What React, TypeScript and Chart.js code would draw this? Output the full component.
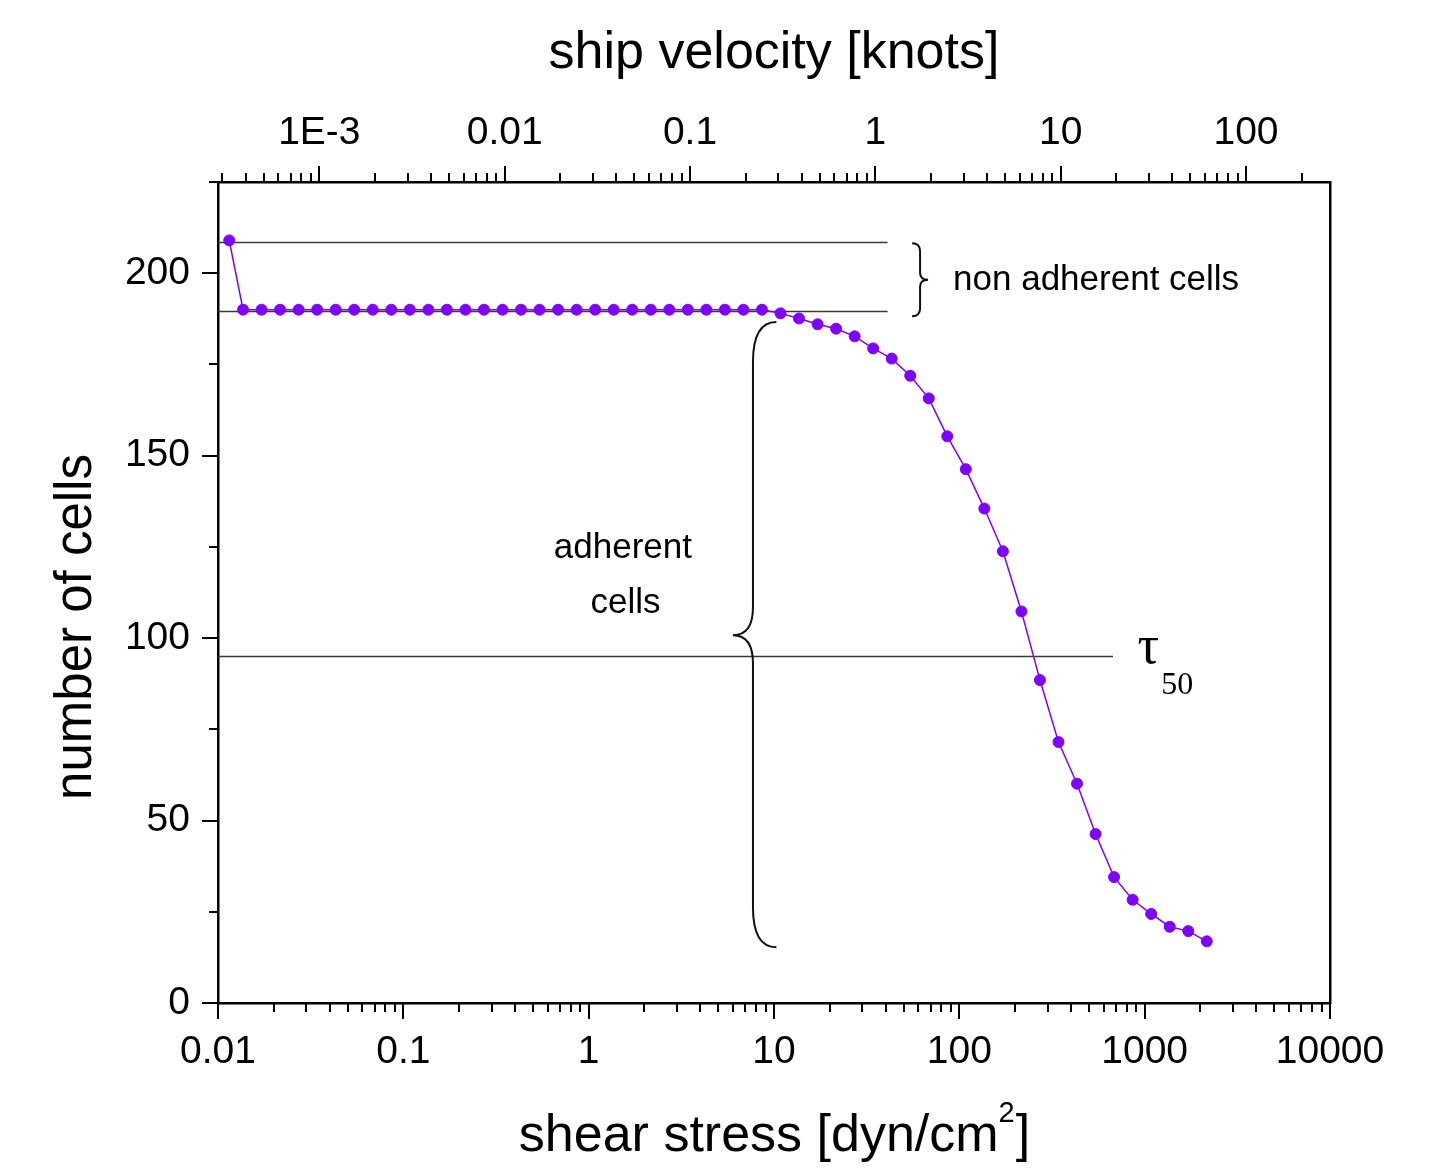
import React, { useEffect, useRef } from "react";
import { Chart, registerables } from "chart.js";

Chart.register(...registerables);

// ---------- data ----------
const shearStress: number[] = [
  0.0115, 0.01365, 0.01718, 0.02163, 0.02723, 0.03428, 0.04315, 0.05433, 0.06839, 0.0861,
  0.1084, 0.1365, 0.1718, 0.2163, 0.2723, 0.3428, 0.4315, 0.5433, 0.6839, 0.861,
  1.084, 1.365, 1.718, 2.163, 2.723, 3.428, 4.315, 5.433, 6.839, 8.61,
  10.84, 13.65, 17.18, 21.63, 27.23, 34.28, 43.15, 54.33, 68.39, 86.1,
  108.4, 136.5, 171.8, 216.3, 272.3, 342.8, 431.5, 543.3, 683.9, 861,
  1084, 1365, 1718, 2163,
];
const cellCount: number[] = [
  209, 190, 190, 190, 190, 190, 190, 190, 190, 190,
  190, 190, 190, 190, 190, 190, 190, 190, 190, 190,
  190, 190, 190, 190, 190, 190, 190, 190, 190, 190,
  189, 187.6, 186, 184.8, 182.7, 179.4, 176.6, 171.9, 165.7, 155.3,
  146.3, 135.5, 123.8, 107.3, 88.5, 71.5, 60.1, 46.3, 34.5, 28.3,
  24.4, 20.9, 19.7, 16.9,
];

const bottomTickValues: number[] = [0.01, 0.1, 1, 10, 100, 1000, 10000];
const bottomTickLabels: string[] = ["0.01", "0.1", "1", "10", "100", "1000", "10000"];
const topTickValues: number[] = [0.001, 0.01, 0.1, 1, 10, 100];
const topTickLabels: string[] = ["1E-3", "0.01", "0.1", "1", "10", "100"];
const yTickValues: number[] = [0, 50, 100, 150, 200];
const yTickLabels: string[] = ["0", "50", "100", "150", "200"];

const nonAdherentLevel = 208.5;
const adherentLevel = 189.7;
const tau50Level = 95;

const bottomTitle = "shear stress [dyn/cm";
const bottomTitleSup = "2";
const topTitle = "ship velocity [knots]";
const leftTitle = "number of cells";

// ---------- annotation layout (data coordinates) ----------
const refLines = [
  { level: nonAdherentLevel, from: 0.01, to: 41 },
  { level: adherentLevel, from: 0.01, to: 41 },
  { level: tau50Level, from: 0.01, to: 675 },
];
const smallBrace = { ex: 55.6, sx: 61.4, tx: 67.8, y1: 208.2, ym: 198.2, y2: 188.2, r1: 8, r2: 7 };
const bigBrace = { ex: 10.3, sx: 7.7, tx: 6.0, y1: 186.6, ym: 100.8, y2: 15.3, r1: 40, r2: 28 };
const textNotes = [
  { text: "non adherent cells", x: 92.5, y: 195.3, align: "left" as CanvasTextAlign },
  { text: "adherent", x: 1.53, y: 121.9, align: "center" as CanvasTextAlign },
  { text: "cells", x: 1.58, y: 106.8, align: "center" as CanvasTextAlign },
];
const tauNote = { x: 915, y: 93.2 };

const SANS = "'Liberation Sans', Arial, sans-serif";
const SERIF = "'Liberation Serif', 'Times New Roman', serif";
const PURPLE = "#8000ff";

function isPow10(v: number) {
  const l = Math.log10(v);
  return Math.abs(l - Math.round(l)) < 1e-6;
}

function drawLogTicks(ctx: CanvasRenderingContext2D, scale: any, y0: number, dir: number) {
  const min = scale.min, max = scale.max;
  const e0 = Math.floor(Math.log10(min));
  const e1 = Math.ceil(Math.log10(max));
  for (let e = e0; e <= e1; e++) {
    for (let m = 1; m <= 9; m++) {
      const v = m * Math.pow(10, e);
      if (v < min * 0.999 || v > max * 1.001) continue;
      const px = Math.round(scale.getPixelForValue(v));
      const len = m === 1 ? 16 : 9;
      ctx.moveTo(px, y0);
      ctx.lineTo(px, y0 + dir * len);
    }
  }
}

function brace(ctx: CanvasRenderingContext2D, ex: number, sx: number, tx: number, y1: number, ym: number, y2: number, r1: number, r2: number) {
  ctx.beginPath();
  ctx.moveTo(ex, y1);
  ctx.quadraticCurveTo(sx, y1, sx, y1 + r1);
  ctx.lineTo(sx, ym - r2);
  ctx.quadraticCurveTo(sx, ym, tx, ym);
  ctx.quadraticCurveTo(sx, ym, sx, ym + r2);
  ctx.lineTo(sx, y2 - r1);
  ctx.quadraticCurveTo(sx, y2, ex, y2);
  ctx.stroke();
}

const overlayPlugin = {
  id: "overlay",
  beforeDatasetsDraw(chart: any) {
    const { ctx, scales } = chart;
    const xs = scales.x, ys = scales.y;
    ctx.save();
    ctx.strokeStyle = "#3a3a3a";
    ctx.lineWidth = 1.6;
    for (const ln of refLines) {
      const py = Math.round(ys.getPixelForValue(ln.level)) + 0.5;
      ctx.beginPath();
      ctx.moveTo(xs.getPixelForValue(ln.from), py);
      ctx.lineTo(xs.getPixelForValue(ln.to), py);
      ctx.stroke();
    }
    ctx.restore();
  },
  afterDraw(chart: any) {
    const { ctx, scales, chartArea } = chart;
    const xs = scales.x, x2 = scales.x2, ys = scales.y;
    ctx.save();
    // tick marks
    ctx.strokeStyle = "#000";
    ctx.lineWidth = 2;
    ctx.beginPath();
    drawLogTicks(ctx, xs, chartArea.bottom, 1);
    drawLogTicks(ctx, x2, chartArea.top, -1);
    for (let v = 0; v <= ys.max + 0.01; v += 25) {
      const py = Math.round(ys.getPixelForValue(v));
      const len = v % 50 === 0 ? 16 : 9;
      ctx.moveTo(chartArea.left, py);
      ctx.lineTo(chartArea.left - len, py);
    }
    ctx.stroke();

    // braces
    ctx.strokeStyle = "#111";
    ctx.lineWidth = 2;
    for (const b of [smallBrace, bigBrace]) {
      brace(
        ctx,
        xs.getPixelForValue(b.ex), xs.getPixelForValue(b.sx), xs.getPixelForValue(b.tx),
        ys.getPixelForValue(b.y1), ys.getPixelForValue(b.ym), ys.getPixelForValue(b.y2),
        b.r1, b.r2
      );
    }

    // text notes
    ctx.fillStyle = "#000";
    ctx.textBaseline = "alphabetic";
    ctx.font = `35px ${SANS}`;
    for (const t of textNotes) {
      ctx.textAlign = t.align;
      ctx.fillText(t.text, xs.getPixelForValue(t.x), ys.getPixelForValue(t.y));
    }
    // tau_50
    const tx = xs.getPixelForValue(tauNote.x);
    const ty = ys.getPixelForValue(tauNote.y);
    ctx.textAlign = "left";
    ctx.font = `54px ${SERIF}`;
    ctx.fillText("τ", tx, ty);
    const tw = ctx.measureText("τ").width;
    ctx.font = `32px ${SERIF}`;
    ctx.fillText("50", tx + tw + 2, ty + 31);

    // axis titles
    const cx = (chartArea.left + chartArea.right) / 2;
    ctx.font = `52px ${SANS}`;
    ctx.textAlign = "center";
    ctx.fillText(topTitle, cx, chartArea.top - 114);

    ctx.textAlign = "left";
    ctx.font = `52px ${SANS}`;
    const wMain = ctx.measureText(bottomTitle).width;
    const wClose = ctx.measureText("]").width;
    ctx.font = `29px ${SANS}`;
    const wSup = ctx.measureText(bottomTitleSup).width;
    const startX = cx - (wMain + wSup + wClose) / 2;
    const by = chartArea.bottom + 148;
    ctx.font = `52px ${SANS}`;
    ctx.fillText(bottomTitle, startX, by);
    ctx.font = `29px ${SANS}`;
    ctx.fillText(bottomTitleSup, startX + wMain, by - 29);
    ctx.font = `52px ${SANS}`;
    ctx.fillText("]", startX + wMain + wSup + 1, by);

    ctx.save();
    ctx.translate(chartArea.left - 127, 627);
    ctx.rotate(-Math.PI / 2);
    ctx.textAlign = "center";
    ctx.font = `51px ${SANS}`;
    ctx.fillText(leftTitle, 0, 0);
    ctx.restore();

    ctx.restore();
  },
};

export default function App() {
  const ref = useRef<HTMLCanvasElement>(null);
  useEffect(() => {
    const canvas = ref.current;
    if (!canvas) return;
    const points = shearStress.map((x, i) => ({ x, y: cellCount[i] }));
    const tickFont = { family: SANS, size: 39 };
    const chart = new Chart(canvas, {
      type: "scatter",
      data: {
        datasets: [
          {
            data: points,
            showLine: true,
            borderColor: PURPLE,
            borderWidth: 1.5,
            backgroundColor: PURPLE,
            pointBackgroundColor: PURPLE,
            pointBorderColor: PURPLE,
            pointBorderWidth: 1,
            pointRadius: 5.5,
            tension: 0,
            xAxisID: "x",
            yAxisID: "y",
          },
        ],
      },
      options: {
        responsive: false,
        animation: false,
        layout: { padding: 0 },
        plugins: { legend: { display: false }, tooltip: { enabled: false } },
        scales: {
          x: {
            type: "logarithmic",
            position: "bottom",
            min: 0.01,
            max: 10000,
            grid: { display: false, drawTicks: false },
            border: { display: true, color: "#000", width: 2.5 },
            ticks: {
              autoSkip: false,
              maxRotation: 0,
              padding: 26,
              color: "#000",
              font: tickFont,
              callback: (_v: any, i: number) => bottomTickLabels[i],
            },
            afterBuildTicks: (axis: any) => {
              axis.ticks = bottomTickValues.map((v) => ({ value: v, major: isPow10(v) }));
            },
            afterFit: (axis: any) => {
              axis.height = 167;
            },
          },
          x2: {
            type: "logarithmic",
            position: "top",
            min: 2.84e-4,
            max: 284,
            grid: { display: false, drawTicks: false },
            border: { display: true, color: "#000", width: 2.5 },
            ticks: {
              autoSkip: false,
              maxRotation: 0,
              padding: 25,
              color: "#000",
              font: tickFont,
              callback: (_v: any, i: number) => topTickLabels[i],
            },
            afterBuildTicks: (axis: any) => {
              axis.ticks = topTickValues.map((v) => ({ value: v }));
            },
            afterFit: (axis: any) => {
              axis.height = 182;
            },
          },
          y: {
            type: "linear",
            position: "left",
            min: 0,
            max: 225,
            grid: { display: false, drawTicks: false },
            border: { display: true, color: "#000", width: 2.5 },
            ticks: {
              padding: 28,
              color: "#000",
              font: tickFont,
              callback: (_v: any, i: number) => yTickLabels[i],
            },
            afterBuildTicks: (axis: any) => {
              axis.ticks = yTickValues.map((v) => ({ value: v }));
            },
            afterFit: (axis: any) => {
              axis.width = 218;
            },
          },
          y2: {
            type: "linear",
            position: "right",
            grid: { display: false, drawTicks: false },
            border: { display: true, color: "#000", width: 2.5 },
            ticks: { display: false },
            afterFit: (axis: any) => {
              axis.width = 122;
            },
          },
        },
      },
      plugins: [overlayPlugin],
    } as any);
    return () => chart.destroy();
  }, []);
  return (
    <div style={{ position: "absolute", left: 0, top: 0, width: 1452, height: 1170, background: "#fff" }}>
      <canvas ref={ref} width={1452} height={1170} style={{ display: "block", width: 1452, height: 1170 }} />
    </div>
  );
}
